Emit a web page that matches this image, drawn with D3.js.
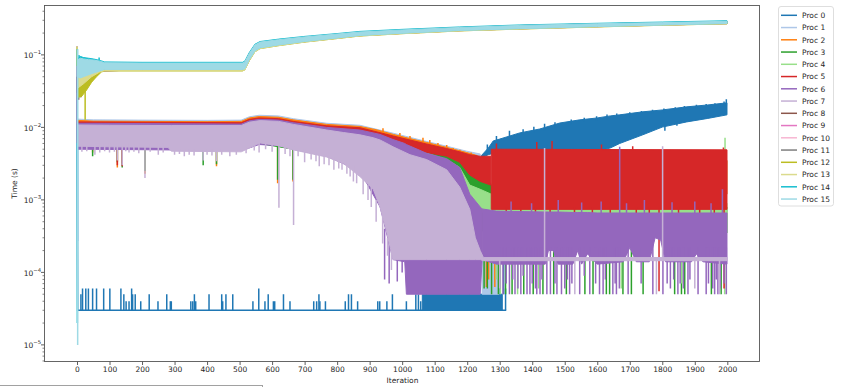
<!DOCTYPE html>
<html>
<head>
<meta charset="utf-8">
<script src="https://cdn.jsdelivr.net/npm/d3@7"></script>
<style>
  body { margin: 0; background: #fff; }
  text { font-family: "DejaVu Sans", sans-serif; }
</style>
</head>
<body>
<svg id="chart" width="841" height="387"></svg>
<script>
// ---- Labels and ticks -------------------------------------------------------
const procLabels = ["Proc 0","Proc 1","Proc 2","Proc 3","Proc 4","Proc 5","Proc 6","Proc 7",
                    "Proc 8","Proc 9","Proc 10","Proc 11","Proc 12","Proc 13","Proc 14","Proc 15"];
const xTicks = [0,100,200,300,400,500,600,700,800,900,1000,1100,1200,1300,1400,1500,1600,1700,1800,1900,2000];
const yTickPowers = [-5,-4,-3,-2,-1];
const xLabel = "Iteration";
const yLabel = "Time (s)";

// Per-iteration timings are very noisy, so each process is stored as
// envelopes [iteration, low, high] (seconds), single spikes [iteration, low, high]
// and plain traces [iteration, value].

// ---- Proc 0 -----------------------------------------------------------------
const proc0Trace = [[0, 0.12], [2, 3.0e-5], [1320, 3.0e-5]];
const proc0Dense = [[1062, 3.0e-5, 5.0e-5], [1308, 3.0e-5, 5.0e-5]];
const proc0Upper = [[1244,0.0038,0.0041],[1265,0.0042,0.0052],[1280,0.0044,0.0065],[1300,0.0045,0.0069],
  [1362,0.0045,0.0084],[1423,0.0045,0.0095],[1485,0.0045,0.0115],[1546,0.0046,0.0127],[1600,0.0047,0.0135],
  [1640,0.0052,0.0144],[1669,0.0060,0.0149],[1740,0.0079,0.0164],[1800,0.0101,0.0174],[1875,0.0119,0.0192],
  [1940,0.0133,0.0204],[1999,0.0149,0.0218]];
const proc0Spikes = [[12,3e-5,5e-5],[17,3e-5,6e-5],[27,3e-5,6e-5],[35,3e-5,6e-5],[48,3e-5,6e-5],[60,3e-5,6e-5],
  [82,3e-5,6e-5],[101,3e-5,6e-5],[135,3e-5,6e-5],[144,3e-5,5e-5],[151,3e-5,4e-5],[160,3e-5,4e-5],[168,3e-5,6e-5],
  [171,3e-5,5e-5],[179,3e-5,5e-5],[196,3e-5,4e-5],[222,3e-5,5e-5],[249,3e-5,4e-5],[276,3e-5,5e-5],[287,3e-5,4e-5],
  [290,3e-5,4e-5],[350,3e-5,4e-5],[356,3e-5,4e-5],[361,3e-5,5e-5],[365,3e-5,4e-5],[406,3e-5,5e-5],[445,3e-5,5e-5],
  [448,3e-5,4e-5],[458,3e-5,5e-5],[479,3e-5,5e-5],[541,3e-5,4e-5],[559,3e-5,6e-5],[578,3e-5,4e-5],[588,3e-5,5e-5],
  [604,3e-5,4e-5],[608,3e-5,4e-5],[635,3e-5,5e-5],[655,3e-5,4e-5],[728,3e-5,4e-5],[737,3e-5,4e-5],[744,3e-5,5e-5],
  [747,3e-5,4e-5],[764,3e-5,4e-5],[825,3e-5,4e-5],[835,3e-5,5e-5],[844,3e-5,5e-5],[863,3e-5,4e-5],[925,3e-5,4e-5],
  [931,3e-5,4e-5],[953,3e-5,4e-5],[970,3e-5,5e-5],[1013,3e-5,4e-5],[1042,3e-5,5e-5],[1050,3e-5,5e-5],[1057,3e-5,4e-5],
  [1282,5e-5,2.8e-4],[1300,5e-5,4.2e-4],[1312,5e-5,3.0e-4],[1318,3e-5,6e-5],
  // jagged upper edge of the late branch
  [1262,0.0042,0.0058],[1290,0.0060,0.0076],[1330,0.0075,0.0090],[1372,0.0080,0.0094],[1405,0.0085,0.0102],
  [1438,0.0090,0.0112],[1470,0.0100,0.0118],[1520,0.0110,0.0128],[1560,0.0120,0.0136],[1598,0.0125,0.0142],
  [1630,0.0130,0.0150],[1660,0.0135,0.0155],[1700,0.0140,0.0162],[1736,0.0150,0.0168],[1770,0.0155,0.0175],
  [1805,0.0160,0.0182],[1840,0.0170,0.0190],[1868,0.0175,0.0197],[1905,0.0180,0.0205],[1935,0.0190,0.0210],
  [1962,0.0195,0.0215],[1990,0.0200,0.0228],[1997,0.0200,0.0245],
  [1808,0.0090,0.0110],[1845,0.0105,0.0120]];

// ---- Proc 1 -----------------------------------------------------------------
const proc1Main = [[3,0.0105,0.0130],[50,0.0102,0.0127],[200,0.0101,0.0126],[400,0.0100,0.0125],[505,0.0101,0.0126],
  [530,0.0112,0.0140],[560,0.0118,0.0147],[620,0.0115,0.0144],[665,0.0106,0.0132],[768,0.0092,0.0114],
  [870,0.0086,0.0107],[973,0.0067,0.0083],[1075,0.0052,0.0064],[1137,0.0044,0.0055],[1198,0.0037,0.0047],
  [1240,0.0034,0.0043]];
const proc1Low = [[1246,5e-5,1.5e-4],[1298,5e-5,1.5e-4]];
const proc1Late = [[1300,0.0012,0.0035],[1999,0.0012,0.0035]];
const proc1Spikes = [[0,0.011,0.125],[3,2.7e-4,0.011]];

// ---- Proc 2 -----------------------------------------------------------------
const proc2Main = [[3,0.0098,0.0125],[50,0.0096,0.0122],[200,0.0095,0.0121],[400,0.0094,0.0120],[505,0.0095,0.0121],
  [530,0.0106,0.0135],[560,0.0111,0.0141],[620,0.0108,0.0138],[665,0.0100,0.0127],[768,0.0087,0.0110],
  [870,0.0080,0.0103],[920,0.0070,0.0093],[973,0.0060,0.0080],[1024,0.0052,0.0070],[1075,0.0045,0.0062],
  [1137,0.0040,0.0053],[1198,0.0035,0.0045],[1230,0.0032,0.0041]];
const proc2Late = [[1290,0.0012,0.0035],[1999,0.0012,0.0035]];
const proc2Spikes = [[0,0.011,0.125],[48,0.0045,0.0100],[124,0.0028,0.0100],[139,0.0032,0.0100],[209,0.0023,0.0100],
  [429,0.0029,0.0100],[617,0.0017,0.0110],[664,0.0018,0.0105],[1259,6.3e-5,2.8e-4],[1266,8e-5,3.5e-4],[1285,6.3e-5,2.8e-4],
  // ragged top of the fast group
  [941,0.0080,0.0097],[993,0.0068,0.0084],[1024,0.0062,0.0076],[1064,0.0055,0.0072],[1085,0.0052,0.0067],
  [1110,0.0048,0.0061],[1137,0.0045,0.0057],[1157,0.0042,0.0052],[1177,0.0040,0.0049],[1212,0.0036,0.0045]];

// ---- Proc 3 -----------------------------------------------------------------
const proc3Main = [[3,0.0055,0.0100],[505,0.0050,0.0100],[560,0.0060,0.0112],[870,0.0035,0.0085],[973,0.0025,0.0066],
  [1075,0.0016,0.0047],[1137,0.0011,0.0042],[1177,8e-4,0.0035],[1208,6e-4,0.0024],[1240,4e-4,0.0020],
  [1272,3e-4,0.0017],[1290,3.5e-4,0.0010]];
const proc3Late = [[1290,3.5e-4,8e-4],[1999,3.5e-4,8e-4]];
const proc3Spikes = [[0,0.011,0.125],[48,0.0040,0.0100],[124,0.0033,0.0100],[139,0.0028,0.0100],[209,0.0025,0.0100],
  [388,0.0030,0.0100],[429,0.0031,0.0100],[617,0.0019,0.0110],[664,0.0019,0.0105],[1232,1.5e-4,6e-4],
  [1252,6e-5,4e-4],[1262,6e-5,4e-4],[1275,5e-5,3e-4],[1283,1.5e-4,4e-4],[1296,5e-5,3.5e-4],[1318,5e-5,3.5e-4],
  [1338,5e-5,3.5e-4],[1374,5e-5,3.5e-4],[1403,5e-5,3.5e-4],[1433,5e-5,3.5e-4],[1466,5e-5,3.5e-4],[1505,5e-5,3.5e-4],
  [1562,5e-5,3.5e-4],[1587,5e-5,3.5e-4],[1628,5e-5,3.5e-4],[1638,5e-5,3.5e-4],[1679,5e-5,3.5e-4],[1705,5e-5,3.5e-4],
  [1741,5e-5,3.5e-4],[1838,5e-5,3.5e-4],[1859,5e-5,3.5e-4],[1869,5e-5,3.5e-4],[1951,5e-5,3.5e-4],[1981,5e-5,3.5e-4]];

// ---- Proc 4 -----------------------------------------------------------------
const proc4Main = [[3,0.0060,0.0095],[505,0.0058,0.0095],[560,0.0065,0.0108],[870,0.0040,0.0080],[973,0.0030,0.0062],
  [1075,0.0020,0.0044],[1137,0.0014,0.0036],[1177,0.0011,0.0028],[1208,9e-4,0.0016],[1240,7e-4,0.0014],[1274,6e-4,0.0012]];
const proc4Late = [[1274,3.5e-4,9e-4],[1999,3.5e-4,9e-4]];
const proc4Spikes = [[0,0.011,0.125],[1240,1.2e-4,8e-4],[1290,8e-5,6e-4],[1302,5e-5,3.5e-4],[1355,5e-5,3.5e-4],
  [1420,6e-5,3.5e-4],[1674,6e-5,3.5e-4],[1860,7e-5,3.5e-4],[1992,5e-5,3.5e-4],[1993,9e-4,0.0072]];

// ---- Proc 5 -----------------------------------------------------------------
const proc5Main = [[3,0.0090,0.0119],[505,0.0088,0.0116],[530,0.0098,0.0129],[560,0.0103,0.0135],[620,0.0100,0.0132],
  [665,0.0092,0.0121],[768,0.0080,0.0105],[870,0.0070,0.0099],[973,0.0052,0.0076],[1075,0.0045,0.0059],
  [1137,0.0040,0.0051],[1177,0.0033,0.0046],[1208,0.0022,0.0042],[1240,0.0018,0.0040],[1272,0.0016,0.0040]];
const proc5Late = [[1274,7.4e-4,0.0050],[1999,7.4e-4,0.0049]];
const proc5Spikes = [[0,0.011,0.125],[124,0.0030,0.0100],[139,0.0029,0.0100],[1290,0.0040,0.0060],[1414,0.0049,0.0063],
  [1461,0.0049,0.0065],[1613,0.0049,0.0058],[1709,0.0049,0.0055],[1988,0.0049,0.0053],[1790,5.5e-5,7.4e-4],[1990,6e-5,7.4e-4],
  // ragged lower edge of the late block
  [1320,6.0e-4,8e-4],[1365,6.3e-4,8e-4],[1410,5.8e-4,8e-4],[1455,6.2e-4,8e-4],[1530,6.0e-4,8e-4],
  [1585,6.4e-4,8e-4],[1640,5.9e-4,8e-4],[1720,6.2e-4,8e-4],[1760,6.0e-4,8e-4],[1850,6.3e-4,8e-4],
  [1915,5.9e-4,8e-4],[1960,6.2e-4,8e-4]];

// ---- Proc 6 -----------------------------------------------------------------
const proc6Main = [[3,0.0050,0.0114],[505,0.0048,0.0111],[530,0.0052,0.0123],[560,0.0058,0.0129],[620,0.0056,0.0126],
  [665,0.0050,0.0116],[768,0.0040,0.0100],[870,0.0025,0.0092],[932,8e-4,0.0080],[972,1.5e-4,0.0068],
  [1008,1.4e-4,0.0060],[1013,5e-5,0.0058],[1075,5e-5,0.0044],[1137,5e-5,0.0037],[1177,5e-5,0.0028],
  [1208,5e-5,0.0012],[1240,5e-5,8e-4],[1246,1.5e-4,7.5e-4]];
const proc6Late = [[1246,1.5e-4,7.5e-4],[1290,1.3e-4,7e-4],[1440,1.3e-4,6.8e-4],[1450,2.0e-4,6.8e-4],[1465,2.0e-4,6.8e-4],
  [1480,1.3e-4,6.8e-4],[1525,1.3e-4,6.7e-4],[1540,2.0e-4,6.7e-4],[1552,1.3e-4,6.7e-4],[1570,1.8e-4,6.7e-4],
  [1600,1.3e-4,6.6e-4],[1680,1.4e-4,6.6e-4],[1700,2.2e-4,6.6e-4],[1720,1.4e-4,6.6e-4],[1760,1.4e-4,6.6e-4],
  [1778,3.0e-4,6.6e-4],[1795,2.8e-4,6.6e-4],[1810,1.4e-4,6.6e-4],[1890,1.4e-4,6.6e-4],[1905,1.8e-4,6.6e-4],
  [1925,1.4e-4,6.6e-4],[1999,1.3e-4,6.6e-4]];
const proc6Spikes = [[0,0.011,0.125],[946,8e-5,4e-4],[960,7e-5,3e-4],[985,7.5e-5,3e-4],[1000,1.0e-4,3e-4],
  [1300,6e-5,2.2e-4],[1310,5e-5,2.2e-4],[1320,7e-5,2.2e-4],[1330,5e-5,2.2e-4],[1340,8e-5,2.2e-4],[1347,5e-5,2.2e-4],
  [1356,6e-5,2.2e-4],[1365,5e-5,2.2e-4],[1372,9e-5,2.2e-4],[1384,5e-5,2.2e-4],[1393,5e-5,2.2e-4],[1400,7e-5,2.2e-4],
  [1410,6e-5,2.2e-4],[1414,5e-5,2.2e-4],[1424,5e-5,2.2e-4],[1430,8e-5,2.2e-4],[1445,5e-5,2.2e-4],[1456,5e-5,2.2e-4],
  [1470,7e-5,2.2e-4],[1476,5e-5,2.2e-4],[1490,5e-5,2.2e-4],[1500,6e-5,2.2e-4],[1508,8e-5,2.2e-4],[1515,5e-5,2.2e-4],
  [1522,7e-5,2.2e-4],[1546,5e-5,2.2e-4],[1560,9e-5,2.2e-4],[1577,5e-5,2.2e-4],[1595,7e-5,2.2e-4],[1607,5e-5,2.2e-4],
  [1618,5e-5,2.2e-4],[1625,8e-5,2.2e-4],[1648,5e-5,2.2e-4],[1655,7e-5,2.2e-4],[1659,5e-5,2.2e-4],[1668,6e-5,2.2e-4],
  [1695,5e-5,2.2e-4],[1735,7e-5,2.2e-4],[1771,5e-5,3.0e-4],[1802,5e-5,2.2e-4],[1815,7e-5,2.2e-4],[1825,6e-5,2.2e-4],
  [1835,8e-5,2.2e-4],[1848,5e-5,2.2e-4],[1855,7e-5,2.2e-4],[1865,6e-5,2.2e-4],[1879,5e-5,2.2e-4],[1885,8e-5,2.2e-4],
  [1910,5e-5,2.2e-4],[1935,5e-5,2.2e-4],[1942,7e-5,2.2e-4],[1955,6e-5,2.2e-4],[1961,5e-5,2.2e-4],[1966,8e-5,2.2e-4],
  [1971,5e-5,2.2e-4],[1978,6e-5,2.2e-4],[1990,7e-5,2.2e-4],[1997,5e-5,2.2e-4],
  [1669,6.6e-4,0.0054],[1985,6.6e-4,0.0014],
  // upward bursts into the red block
  [1335,6.6e-4,9.5e-4],[1398,6.6e-4,9.0e-4],[1480,6.6e-4,1.0e-3],[1552,6.6e-4,9.2e-4],[1612,6.6e-4,9.5e-4],
  [1690,6.6e-4,9.0e-4],[1745,6.6e-4,1.0e-3],[1830,6.6e-4,9.3e-4],[1900,6.6e-4,9.5e-4],[1950,6.6e-4,9.0e-4]];

// ---- Proc 7 -----------------------------------------------------------------
const proc7Main = [[3,0.0055,0.0108],[100,0.0054,0.0107],[280,0.0053,0.0106],[290,0.0047,0.0106],[505,0.0046,0.0106],
  [530,0.0052,0.0118],[563,0.0061,0.0124],[620,0.0056,0.0121],[665,0.0049,0.0110],[768,0.0039,0.0092],
  [819,0.0032,0.0085],[870,0.0021,0.0079],[911,0.0014,0.0072],[932,8e-4,0.0067],[950,4e-4,0.0061],
  [972,1.5e-4,0.0054],[1024,1.5e-4,0.0042],[1075,1.5e-4,0.0036],[1137,1.5e-4,0.0026],[1177,1.5e-4,0.0015],
  [1208,1.5e-4,7.4e-4],[1225,1.5e-4,3.0e-4],[1240,1.5e-4,2.0e-4],[1250,1.45e-4,1.6e-4],[1999,1.45e-4,1.6e-4]];
const proc7Spikes = [[0,0.011,0.125],[15,0.0046,0.0060],[30,0.0047,0.0060],[55,0.0042,0.0060],[70,0.0045,0.0060],
  [85,0.0047,0.0060],[100,0.0045,0.0060],[115,0.0046,0.0060],[124,0.0035,0.0060],[139,0.0030,0.0060],
  [150,0.0047,0.0060],[160,0.0045,0.0060],[175,0.0046,0.0060],[190,0.0044,0.0060],[209,0.0020,0.0060],
  [225,0.0046,0.0060],[250,0.0042,0.0060],[265,0.0045,0.0060],[300,0.0042,0.0050],[315,0.0043,0.0050],
  [330,0.0040,0.0050],[345,0.0042,0.0050],[360,0.0041,0.0050],[388,0.0035,0.0050],[400,0.0042,0.0050],
  [415,0.0041,0.0050],[429,0.0034,0.0050],[445,0.0042,0.0050],[470,0.0040,0.0050],[490,0.0042,0.0050],
  [520,0.0044,0.0055],[545,0.0048,0.0062],[560,0.0045,0.0065],[580,0.0050,0.0062],[600,0.0046,0.0060],
  [621,7.8e-4,0.0060],[640,0.0043,0.0055],[655,0.0040,0.0052],[666,4.5e-4,0.0055],[680,0.0040,0.0050],
  [700,0.0033,0.0050],[720,0.0036,0.0047],[735,0.0034,0.0045],[745,0.0029,0.0045],[760,0.0031,0.0042],
  [775,0.0030,0.0040],[790,0.0026,0.0040],[805,0.0027,0.0036],[815,0.0026,0.0035],[830,0.0023,0.0035],
  [840,0.0021,0.0030],[850,0.0018,0.0030],[860,0.0017,0.0025],[880,0.0012,0.0020],[895,0.0010,0.0016],
  [905,8e-4,0.0015],[920,5e-4,0.0010],[940,2.5e-4,6e-4],[955,1.7e-4,3e-4],[967,1.08e-4,2e-4],
  [1300,6e-5,1.5e-4],[1438,1.5e-4,0.0052],[1531,5e-5,1.5e-4],[1782,5e-5,1.5e-4],[1801,1.5e-4,0.0055],
  [1900,6e-5,1.5e-4],[1976,5e-5,1.5e-4]];

// ---- Procs 8-15 (slow group) ---------------------------------------------------
const slowShared = [[3,0.030,0.065],[20,0.035,0.070],[45,0.050,0.075],[70,0.060,0.076],[200,0.062,0.076],
  [509,0.062,0.076],[516,0.064,0.079],[530,0.085,0.104],[547,0.112,0.136],[563,0.124,0.149],[620,0.136,0.161],
  [700,0.152,0.176],[800,0.170,0.193],[870,0.184,0.206],[1000,0.198,0.220],[1177,0.216,0.238],[1362,0.229,0.254],
  [1600,0.245,0.268],[1800,0.258,0.278],[1999,0.270,0.290]];
const proc12Band = [[3,0.026,0.060],[15,0.027,0.055],[30,0.033,0.060],[45,0.042,0.066],[60,0.050,0.070],
  [75,0.058,0.074],[85,0.060,0.076],[200,0.060,0.075],[509,0.060,0.075],[516,0.062,0.078],[530,0.083,0.102],
  [547,0.110,0.134],[563,0.122,0.147],[620,0.134,0.159],[700,0.150,0.174],[800,0.168,0.191],[870,0.182,0.204],
  [1000,0.196,0.218],[1177,0.214,0.236],[1362,0.227,0.252],[1600,0.243,0.266],[1800,0.256,0.276],[1999,0.268,0.288]];
const proc13Band = [[3,0.035,0.070],[20,0.040,0.075],[45,0.050,0.078],[70,0.058,0.078],[85,0.0605,0.077],
  [200,0.0605,0.075],[509,0.0605,0.075],[516,0.062,0.078],[530,0.083,0.102],[547,0.110,0.134],[563,0.122,0.147],
  [620,0.134,0.159],[700,0.150,0.174],[800,0.168,0.191],[870,0.182,0.204],[1000,0.196,0.218],[1177,0.214,0.236],
  [1362,0.227,0.252],[1600,0.243,0.266],[1800,0.256,0.276],[1999,0.268,0.288]];
const proc14Band = [[2,0.052,0.092],[10,0.050,0.095],[20,0.052,0.092],[35,0.055,0.090],[50,0.058,0.088],
  [70,0.061,0.084],[85,0.064,0.080],[200,0.064,0.079],[509,0.064,0.079],[516,0.066,0.082],[530,0.088,0.108],
  [547,0.115,0.140],[563,0.127,0.153],[620,0.139,0.165],[700,0.155,0.180],[800,0.173,0.197],[870,0.187,0.211],
  [1000,0.201,0.225],[1177,0.219,0.243],[1362,0.232,0.259],[1600,0.248,0.273],[1800,0.261,0.284],[1999,0.273,0.296]];
const proc15Band = [[2,0.050,0.085],[10,0.048,0.090],[20,0.050,0.088],[35,0.053,0.086],[50,0.056,0.085],
  [70,0.060,0.082],[85,0.063,0.078],[200,0.063,0.077],[509,0.063,0.077],[516,0.064,0.080],[530,0.086,0.105],
  [547,0.113,0.137],[563,0.125,0.150],[620,0.137,0.162],[700,0.153,0.177],[800,0.171,0.194],[870,0.185,0.207],
  [1000,0.199,0.221],[1177,0.217,0.239],[1362,0.230,0.255],[1600,0.246,0.269],[1800,0.259,0.279],[1999,0.271,0.291]];
const proc8Spikes = [[0,0.030,0.13],[5,0.024,0.040],[12,0.026,0.045],[18,0.030,0.050]];
const proc9Spikes = [[0,0.0061,0.13]];
const proc10Spikes = [[0,0.050,0.13]];
const proc11Spikes = [[0,0.070,0.13],[4,0.025,0.040],[9,0.028,0.045],[14,0.030,0.050]];
const proc12Spikes = [[0,0.070,0.13],[10,0.026,0.050],[25,0.0127,0.040]];
const proc13Spikes = [[0,0.070,0.13]];
const proc14Spikes = [[1,2e-5,0.12],[6,0.060,0.100],[12,0.055,0.095],[20,0.060,0.092],[68,0.070,0.092]];
const proc15Spikes = [[2,1e-5,0.12]];

// ---- Colours (matplotlib tab20) ----------------------------------------------
const procColors = ["#1f77b4","#aec7e8","#ff7f0e","#2ca02c","#98df8a","#d62728","#9467bd","#c5b0d5",
                    "#8c564b","#e377c2","#f7b6d2","#7f7f7f","#bcbd22","#dbdb8d","#17becf","#9edae5"];

const series = [
  { traces: [proc0Trace], bands: [proc0Dense, proc0Upper], spikes: proc0Spikes },
  { bands: [proc1Main, proc1Low, proc1Late], spikes: proc1Spikes },
  { bands: [proc2Main, proc2Late], spikes: proc2Spikes },
  { bands: [proc3Main, proc3Late], spikes: proc3Spikes },
  { bands: [proc4Main, proc4Late], spikes: proc4Spikes },
  { bands: [proc5Main, proc5Late], spikes: proc5Spikes },
  { bands: [proc6Main, proc6Late], spikes: proc6Spikes },
  { bands: [proc7Main], spikes: proc7Spikes },
  { bands: [slowShared], spikes: proc8Spikes },
  { bands: [slowShared], spikes: proc9Spikes },
  { bands: [slowShared], spikes: proc10Spikes },
  { bands: [slowShared], spikes: proc11Spikes },
  { bands: [proc12Band], spikes: proc12Spikes },
  { bands: [proc13Band], spikes: proc13Spikes },
  { bands: [proc14Band], spikes: proc14Spikes },
  { bands: [proc15Band], spikes: proc15Spikes }
];

// ---- Layout -----------------------------------------------------------------
const plotLeft = 44.5, plotRight = 759.5, plotTop = 5.5, plotBottom = 361.5;
const svg = d3.select("#chart");
const x = d3.scaleLinear().domain([-100, 2099]).range([plotLeft, plotRight]);
const y = d3.scaleLog().domain([5.9e-6, 0.48]).range([plotBottom, plotTop]);

svg.append("defs").append("clipPath").attr("id", "plotClip")
  .append("rect").attr("x", plotLeft).attr("y", plotTop)
  .attr("width", plotRight - plotLeft).attr("height", plotBottom - plotTop);

const plot = svg.append("g").attr("clip-path", "url(#plotClip)");
const area = d3.area().x(d => x(d[0])).y0(d => y(d[1])).y1(d => y(d[2]));
const line = d3.line().x(d => x(d[0])).y(d => y(d[1]));

series.forEach((s, i) => {
  const c = procColors[i];
  const g = plot.append("g").attr("class", "proc-" + i);
  (s.traces || []).forEach(t => {
    g.append("path").attr("d", line(t)).attr("fill", "none")
      .attr("stroke", c).attr("stroke-width", 1.5);
  });
  s.bands.forEach(b => {
    g.append("path").attr("d", area(b)).attr("fill", c)
      .attr("stroke", c).attr("stroke-width", 1).attr("stroke-linejoin", "round");
  });
  g.selectAll("line.spike").data(s.spikes).join("line").attr("class", "spike")
    .attr("x1", d => x(d[0])).attr("x2", d => x(d[0]))
    .attr("y1", d => y(d[1])).attr("y2", d => y(d[2]))
    .attr("stroke", c).attr("stroke-width", 1.5);
});

// ---- Axes -------------------------------------------------------------------
const textColor = "#262626";
const xAxis = svg.append("g").attr("transform", `translate(0,${plotBottom})`)
  .call(d3.axisBottom(x).tickValues(xTicks).tickSize(3.5).tickPadding(2).tickFormat(d3.format("d")));
xAxis.select(".domain").remove();
xAxis.selectAll("line").attr("stroke", "#333").attr("stroke-width", 0.8);
xAxis.selectAll("text").attr("font-size", "7.5px").attr("fill", textColor)
  .attr("font-family", "DejaVu Sans, sans-serif");

// log axis: major decades plus unlabelled minor ticks
const yAxis = svg.append("g");
const minorTicks = [];
for (let p = -6; p <= -1; p++) {
  for (let k = 2; k <= 9; k++) {
    const v = k * Math.pow(10, p);
    if (v > y.domain()[0] && v < y.domain()[1]) minorTicks.push(v);
  }
}
yAxis.selectAll("line.minor").data(minorTicks).join("line").attr("class", "minor")
  .attr("x1", plotLeft - 2).attr("x2", plotLeft)
  .attr("y1", d => y(d)).attr("y2", d => y(d))
  .attr("stroke", "#333").attr("stroke-width", 0.6);
yAxis.selectAll("line.major").data(yTickPowers).join("line").attr("class", "major")
  .attr("x1", plotLeft - 3.5).attr("x2", plotLeft)
  .attr("y1", d => y(Math.pow(10, d))).attr("y2", d => y(Math.pow(10, d)))
  .attr("stroke", "#333").attr("stroke-width", 0.8);
const yLabels = yAxis.selectAll("text.ytick").data(yTickPowers).join("text").attr("class", "ytick")
  .attr("x", 41).attr("y", d => y(Math.pow(10, d)) + 3.2)
  .attr("text-anchor", "end").attr("font-size", "7.5px").attr("fill", textColor);
yLabels.append("tspan").text("10");
yLabels.append("tspan").attr("dy", -3.6).attr("font-size", "5.3px").text(d => "\u2212" + Math.abs(d));

// frame
svg.append("rect").attr("x", plotLeft).attr("y", plotTop)
  .attr("width", plotRight - plotLeft).attr("height", plotBottom - plotTop)
  .attr("fill", "none").attr("stroke", "#555").attr("stroke-width", 0.9);

// axis titles
svg.append("text").attr("x", (plotLeft + plotRight) / 2 + 0.5).attr("y", 383)
  .attr("text-anchor", "middle").attr("font-size", "7.5px").attr("fill", textColor).text(xLabel);
svg.append("text").attr("transform", `translate(17,${(plotTop + plotBottom) / 2}) rotate(-90)`)
  .attr("text-anchor", "middle").attr("font-size", "7.5px").attr("fill", textColor).text(yLabel);

// ---- Legend -----------------------------------------------------------------
const legend = svg.append("g");
legend.append("rect").attr("x", 778.5).attr("y", 6.5).attr("width", 55).attr("height", 199.5)
  .attr("rx", 2.5).attr("fill", "#fff").attr("fill-opacity", 0.8)
  .attr("stroke", "#d6d6d6").attr("stroke-width", 0.8);
const items = legend.selectAll("g.item").data(procLabels).join("g").attr("class", "item")
  .attr("transform", (d, i) => `translate(0,${15.3 + i * 12.25})`);
items.append("line").attr("x1", 781).attr("x2", 797).attr("y1", 0).attr("y2", 0)
  .attr("stroke", (d, i) => procColors[i]).attr("stroke-width", 1.5);
items.append("text").attr("x", 802).attr("y", 2.8).attr("font-size", "7.5px")
  .attr("fill", textColor).text(d => d);

// frame edge of the neighbouring panel below
svg.append("rect").attr("x", -1).attr("y", 385.5).attr("width", 263.5).attr("height", 12)
  .attr("fill", "none").attr("stroke", "#8a8a8a").attr("stroke-width", 0.8);
</script>
</body>
</html>
